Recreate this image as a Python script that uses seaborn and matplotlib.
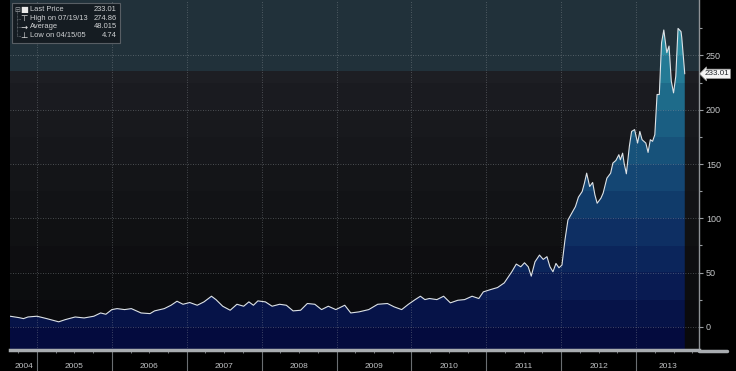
import numpy as np
import pandas as pd
import seaborn as sns
import matplotlib.pyplot as plt
import matplotlib.transforms as mtransforms
from matplotlib.colors import LinearSegmentedColormap, to_rgb
from matplotlib.lines import Line2D
from matplotlib.patches import Rectangle

# values (decimal year, price)
years = [
    2004.64, 2004.76, 2004.82, 2004.88, 2005.00, 2005.13, 2005.29, 2005.38, 2005.51, 2005.63,
    2005.76, 2005.85, 2005.92, 2006.00, 2006.07, 2006.17, 2006.26, 2006.39, 2006.51, 2006.57,
    2006.70, 2006.79, 2006.87, 2006.95, 2007.04, 2007.14, 2007.23, 2007.33, 2007.39, 2007.48,
    2007.58, 2007.67, 2007.76, 2007.83, 2007.89, 2007.95, 2008.05, 2008.14, 2008.24, 2008.33,
    2008.42, 2008.52, 2008.61, 2008.71, 2008.80, 2008.89, 2008.99, 2009.11, 2009.19, 2009.30,
    2009.43, 2009.55, 2009.68, 2009.77, 2009.87, 2009.96, 2010.05, 2010.12, 2010.18, 2010.24,
    2010.34, 2010.43, 2010.52, 2010.62, 2010.71, 2010.81, 2010.90, 2010.96, 2011.06, 2011.15,
    2011.24, 2011.34, 2011.40, 2011.46, 2011.51, 2011.56, 2011.60, 2011.65, 2011.71, 2011.76,
    2011.81, 2011.85, 2011.89, 2011.93, 2011.97, 2012.01, 2012.05, 2012.09, 2012.14, 2012.19,
    2012.23, 2012.28, 2012.31, 2012.34, 2012.38, 2012.42, 2012.45, 2012.48, 2012.53, 2012.56,
    2012.61, 2012.66, 2012.69, 2012.73, 2012.77, 2012.79, 2012.82, 2012.84, 2012.87, 2012.91,
    2012.94, 2012.98, 2013.02, 2013.05, 2013.08, 2013.13, 2013.16, 2013.19, 2013.22, 2013.25,
    2013.28, 2013.31, 2013.34, 2013.37, 2013.41, 2013.44, 2013.47, 2013.50, 2013.53, 2013.56,
    2013.60, 2013.61, 2013.65,
]
prices = [
    9.9, 8.6, 7.7, 9.2, 9.9, 7.7, 4.74, 6.8, 9.2, 8.3,
    9.9, 12.9, 11.7, 16.0, 16.9, 16.0, 16.9, 12.9, 12.3, 14.8,
    16.9, 20.0, 23.7, 20.9, 22.5, 20.0, 23.1, 28.3, 25.2, 19.1,
    15.4, 20.9, 19.1, 23.1, 20.0, 24.0, 23.1, 19.1, 20.9, 20.0,
    14.8, 15.4, 21.6, 20.9, 16.0, 19.1, 16.0, 20.0, 12.9, 13.9,
    16.0, 20.9, 21.6, 18.5, 16.0, 20.9, 25.2, 28.3, 25.2, 26.2,
    25.2, 28.3, 22.2, 24.6, 25.2, 28.3, 26.2, 32.3, 34.5, 36.3,
    40.6, 50.8, 57.9, 55.4, 59.1, 55.4, 46.8, 60.0, 66.2, 62.2,
    64.7, 55.4, 50.8, 58.5, 54.5, 57.0, 80.0, 98.5, 104.7, 110.8,
    119.5, 124.7, 132.4, 141.6, 129.3, 133.0, 121.6, 113.9, 118.5, 123.2,
    137.0, 141.6, 150.9, 153.3, 158.6, 153.9, 160.0, 150.9, 141.0, 166.3,
    180.0, 181.7, 169.3, 180.0, 172.4, 169.3, 160.7, 172.4, 170.9, 177.0,
    214.0, 214.0, 261.7, 273.4, 252.5, 258.6, 226.3, 215.5, 230.9, 274.86,
    271.9, 266.3, 233.01,
]
year_labels = ['2004', '2005', '2006', '2007', '2008', '2009', '2010', '2011', '2012', '2013']
price_ticks = [0, 50, 100, 150, 200, 250]
legend_labels = ['Last Price', 'High on 07/19/13', 'Average', 'Low on 04/15/05']
legend_values = ['233.01', '274.86', '48.015', '4.74']
last_price = 233.01

df = pd.DataFrame({'year': years, 'price': prices})

sns.set_style('dark')
plt.rcParams['font.family'] = ['Liberation Sans', 'DejaVu Sans']

W, H = 736, 371
fig = plt.figure(figsize=(W / 100, H / 100), dpi=100, facecolor='black')
ax = fig.add_axes([10 / W, 21 / H, 689 / W, 350 / H])
x0, x1 = 2004.64, 2013.84
y0, y1 = -21.2, 301
ax.set_xlim(x0, x1)
ax.set_ylim(y0, y1)
ax.set_facecolor('#0b0b0d')

# banded background
lv = np.linspace(y0, y1, 600)
dark = LinearSegmentedColormap.from_list('bg', ['#09090b', '#121316', '#1d1e23'])
bg = []
for v in lv:
    if v > 236:
        bg.append(to_rgb('#21313a'))
    else:
        step = np.floor((v + 25) / 25) * 25
        bg.append(dark(np.clip(step / 250, 0, 1))[:3])
bg = np.array(bg)[:, None, :]
ax.imshow(bg, extent=[x0, x1, y0, y1], origin='lower', aspect='auto', zorder=0,
          interpolation='nearest')

# area under the line, banded gradient clipped to the fill shape
poly = ax.fill_between(df['year'], df['price'], y0, color='none', lw=0)
fillmap = LinearSegmentedColormap.from_list(
    'fill', ['#040b3e', '#0a1d55', '#0f3466', '#164e78', '#1d6888', '#2a8aa0'])
fg = []
for v in lv:
    step = np.floor((v + 25) / 25) * 25
    fg.append(fillmap(np.clip(step / 275, 0, 1))[:3])
fg = np.array(fg)[:, None, :]
im = ax.imshow(fg, extent=[x0, x1, y0, y1], origin='lower', aspect='auto', zorder=1,
               interpolation='nearest')
im.set_clip_path(poly.get_paths()[0], ax.transData)

# grid
for b in range(2005, 2014):
    ax.axvline(b, color='#9aa0a6', lw=0.6, ls=(0, (1, 2)), alpha=0.5, zorder=2)
for v in price_ticks:
    ax.axhline(v, color='#9aa0a6', lw=0.6, ls=(0, (1, 2)), alpha=0.55, zorder=2)

sns.lineplot(data=df, x='year', y='price', color='#dde2e6', linewidth=0.8, ax=ax, zorder=3)
ax.set_xlabel('')
ax.set_ylabel('')

# right axis
ax.yaxis.tick_right()
ax.set_yticks(price_ticks)
ax.set_yticks([25, 75, 125, 175, 225, 275], minor=True)
ax.tick_params(axis='y', which='both', right=True, left=False, direction='out',
               colors='#9a9ea2', labelcolor='#c4c6c8', labelsize=6.5, length=3, width=0.8, pad=2)
ax.tick_params(axis='y', which='minor', length=2)

# bottom axis: separators and quarter ticks, labels centred in each year
ax.set_xticks(range(2005, 2014))
ax.set_xticks([y + q for y in range(2004, 2014) for q in (0.25, 0.5, 0.75)
               if x0 < y + q < x1], minor=True)
ax.set_xticklabels([])
ax.tick_params(axis='x', which='major', bottom=True, direction='out', length=16,
               width=0.8, colors='#6a6e72')
ax.tick_params(axis='x', which='minor', bottom=True, direction='out', length=2.5,
               width=0.6, colors='#8a8e92')
trans = mtransforms.blended_transform_factory(ax.transData, fig.transFigure)
mids = [(x0 + 2005) / 2] + [y + 0.5 for y in range(2005, 2013)] + [(2013 + x1) / 2]
for m, lab in zip(mids, year_labels):
    fig.text(m, 5 / H, lab, transform=trans, ha='center', va='center',
             color='#c0c2c4', fontsize=6)

for side in ('top', 'left'):
    ax.spines[side].set_visible(False)
ax.spines['right'].set_color('#8e9296')
ax.spines['right'].set_linewidth(1.0)
ax.spines['bottom'].set_color('#a8acb0')
ax.spines['bottom'].set_linewidth(2.5)
fig.add_artist(Line2D([699 / W, 727 / W], [20 / H, 20 / H], color='#a8acb0', lw=2.5))

# last price tag
ytrans = mtransforms.blended_transform_factory(ax.transAxes, ax.transData)
ax.text(1.008, last_price, '233.01', transform=ytrans, ha='left', va='center',
        fontsize=5.8, color='#202428', clip_on=False,
        bbox=dict(boxstyle='larrow,pad=0.15', fc='#f4f4f4', ec='#9a9a9a', lw=0.5))

# legend box
fig.add_artist(Rectangle((12 / W, 1 - 43 / H), 108 / W, 40 / H, transform=fig.transFigure,
                         fc='#151b21', ec='#5c6268', lw=0.8, alpha=0.95))
icons = ['\u25a0', '\u22a4', '\u2192', '\u22a5']
rows_y = [9.5, 18.5, 27, 35.5]
for ic, lab, val, ry in zip(icons, legend_labels, legend_values, rows_y):
    yy = 1 - ry / H
    fig.text(24 / W, yy, ic, ha='center', va='center', color='#e8e8e8', fontsize=6,
             family=['DejaVu Sans'])
    fig.text(30 / W, yy, lab, ha='left', va='center', color='#d0d2d4', fontsize=5.4)
    fig.text(117 / W, yy, val, ha='right', va='center', color='#d0d2d4', fontsize=5.4)
fig.add_artist(Line2D([17 / W, 17 / W], [1 - 9.5 / H, 1 - 35.5 / H], color='#80868c',
                      lw=0.5, ls=(0, (1, 1))))
for ry in rows_y[1:]:
    fig.add_artist(Line2D([17 / W, 21 / W], [1 - ry / H, 1 - ry / H], color='#80868c',
                          lw=0.5, ls=(0, (1, 1))))
fig.text(17 / W, 1 - 9.5 / H, '\u229f', ha='center', va='center', color='#a0a4a8', fontsize=5,
         family=['DejaVu Sans'])

fig.savefig('out.png', dpi=100, facecolor='black')
